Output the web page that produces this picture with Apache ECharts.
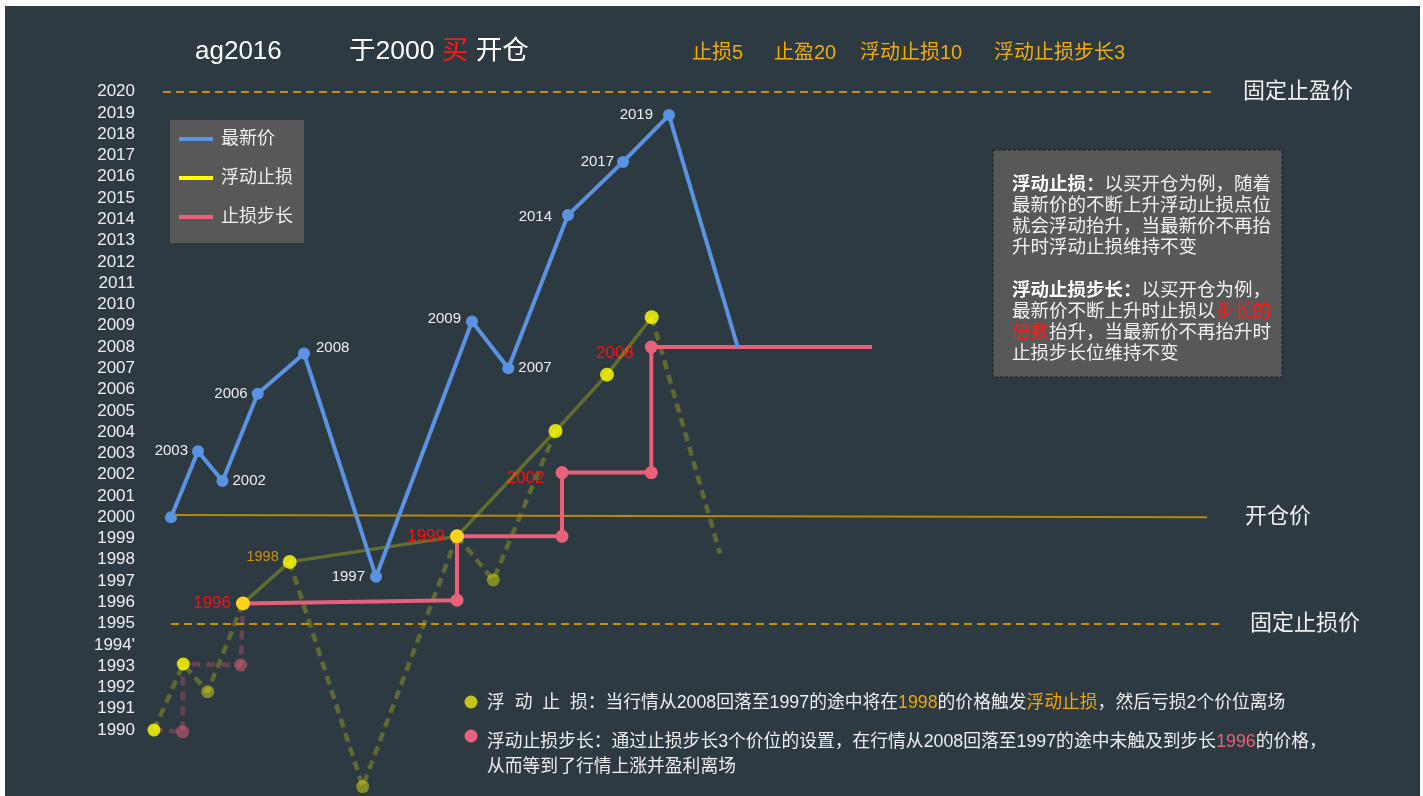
<!DOCTYPE html>
<html>
<head>
<meta charset="utf-8">
<script src="https://cdn.jsdelivr.net/npm/echarts@6/dist/echarts.min.js"></script>
<style>
html, body { margin: 0; padding: 0; background: #fff; }
#main { position: absolute; left: 5px; top: 6px; width: 1415px; height: 790px; background: #2d3a42; }
</style>
</head>
<body>
<div id="main"></div>
<script>
const FONT = "'Liberation Sans', 'Noto Sans CJK SC', sans-serif";

// y 轴刻度文字
const yTicks = ['1990', '1991', '1992', '1993', "1994'", '1995', '1996', '1997', '1998', '1999', '2000',
    '2001', '2002', '2003', '2004', '2005', '2006', '2007', '2008', '2009', '2010',
    '2011', '2012', '2013', '2014', '2015', '2016', '2017', '2018', '2019', '2020'];

// 最新价
const priceX = [2.1, 4.8, 7.25, 10.77, 15.4, 22.6, 32.2, 35.83, 41.8, 47.3, 51.9, 58.77];
const priceY = [2000, 2003.1, 2001.7, 2005.8, 2007.7, 1997.2, 2009.2, 2007.0, 2014.2, 2016.7, 2018.9, 2008.0];
const priceLabelPos = [null, 'left', 'right', 'left', 'right', 'left', 'left', 'right', 'left', 'left', 'left', null];
const priceLabelDy = [0, 0, 0, 0, -6, 0, -3, 0, 2, 0, 0, 0];
const priceLabelGap = [4, 4, 4, 4, 6, 5, 5, 4, 10, 3, 10, 4];

// 浮动止损
const trailX = [9.3, 13.97, 30.7, 40.55, 45.7, 50.17];
const trailY = [1995.95, 1997.9, 1999.1, 2004.05, 2006.7, 2009.4];
const trailLabels = ['1996', '1998', '1999', '', '', ''];

// 止损步长
const stepX = [9.3, 30.7, 30.7, 41.2, 41.2, 50.13, 50.13, 72.2];
const stepY = [1995.95, 1996.1, 1999.1, 1999.1, 2002.1, 2002.1, 2008.0, 2008.0];
const stepLabels = ['', '', '', '', '2002', '', '2008', ''];
const stepDots = [0, 1, 0, 1, 1, 1, 1, 0];

// 虚线 (回落路径)  marks: 0 无点, 1 暗点, 2 亮点, 3 粉点
const dashAX = [0.4, 3.33, 5.77, 9.3];
const dashAY = [1990.0, 1993.1, 1991.8, 1995.95];
const dashAMarks = [2, 2, 1, 0];
const dashBX = [13.97, 21.27, 30.7];
const dashBY = [1997.9, 1987.34, 1999.1];
const dashBMarks = [0, 1, 0];
const dashCX = [30.7, 34.33, 40.55];
const dashCY = [1999.1, 1997.05, 2004.05];
const dashCMarks = [0, 1, 0];
const dashDX = [50.17, 57.0];
const dashDY = [2009.4, 1998.3];
const dashDMarks = [0, 0];
const dashPX = [0.4, 3.27, 3.27, 9.07, 9.3];
const dashPY = [1990.0, 1989.92, 1993.1, 1993.05, 1995.95];
const dashPMarks = [0, 3, 0, 3, 0];

// 参考线
const refNames = ['固定止盈价', '开仓价', '固定止损价'];
const refStartX = [1.3, 2.1, 2.1];
const refEndX = [106.2, 105.7, 107.0];
const refStartY = [2020, 2000.1, 1995];
const refEndY = [2020, 2000, 1995];
const refLabelGap = [31, 38, 30];

const BLUE = '#5b93e3';
const PINK = '#e8607a';
const dotStyles = [
    {},
    { color: 'rgba(255,255,0,0.42)' },
    { color: 'rgba(255,255,0,0.82)' },
    { color: 'rgba(232,96,122,0.5)' }
];

const chart = echarts.init(document.getElementById('main'));

function ghost(name, xs, ys, marks, color) {
    return {
        name: name,
        type: 'line',
        z: 1,
        silent: true,
        symbolSize: 13,
        data: xs.map((x, i) => ({
            value: [x, ys[i]],
            symbol: marks[i] ? 'circle' : 'none',
            itemStyle: dotStyles[marks[i]]
        })),
        lineStyle: { color: color, width: 4.5, type: [9, 6] }
    };
}

const refLines = refNames.map((n, i) => [
    {
        coord: [refStartX[i], refStartY[i]],
        name: n,
        lineStyle: i === 1
            ? { color: '#b8890b', width: 2, type: 'solid' }
            : { color: '#f2ad00', width: 1.5, type: [8, 5] },
        label: { distance: refLabelGap[i] }
    },
    { coord: [refEndX[i], refEndY[i]] }
]);

const option = {
    animation: false,
    textStyle: { fontFamily: FONT },
    grid: { left: 145, width: 1100, top: 85.7, height: 702.1 },
    xAxis: { type: 'value', min: 0, max: 110, show: false },
    yAxis: {
        type: 'value',
        min: 1987,
        max: 2020,
        interval: 1,
        axisLine: { show: false },
        axisTick: { show: false },
        splitLine: { show: false },
        axisLabel: {
            color: '#eee',
            fontSize: 17,
            margin: 15,
            formatter: v => (v >= 1990 ? yTicks[v - 1990] : '')
        }
    },
    legend: {
        data: [
            { name: '最新价', itemStyle: { color: BLUE } },
            { name: '浮动止损', itemStyle: { color: '#ffff00', opacity: 1 } },
            { name: '止损步长', itemStyle: { color: PINK } }
        ],
        orient: 'vertical',
        left: 165,
        top: 114,
        icon: 'rect',
        itemWidth: 34,
        itemHeight: 4,
        itemGap: 21,
        padding: [10, 11, 17, 9],
        backgroundColor: '#585858',
        selectedMode: false,
        textStyle: { color: '#eee', fontSize: 18, padding: [0, 0, 0, 3] }
    },
    series: [
        ghost('p1', dashPX, dashPY, dashPMarks, 'rgba(232,96,122,0.3)'),
        ghost('d1', dashAX, dashAY, dashAMarks, 'rgba(255,255,0,0.24)'),
        ghost('d2', dashBX, dashBY, dashBMarks, 'rgba(255,255,0,0.24)'),
        ghost('d3', dashCX, dashCY, dashCMarks, 'rgba(255,255,0,0.24)'),
        ghost('d4', dashDX, dashDY, dashDMarks, 'rgba(255,255,0,0.24)'),
        {
            name: '止损步长',
            type: 'line',
            z: 3,
            symbolSize: 13,
            data: stepX.map((x, i) => ({
                value: [x, stepY[i]],
                symbol: stepDots[i] ? 'circle' : 'none',
                label: { show: !!stepLabels[i] }
            })),
            lineStyle: { color: PINK, width: 4 },
            itemStyle: { color: PINK },
            label: {
                position: 'left',
                distance: 11,
                offset: [0, 6],
                color: '#ff1010',
                fontSize: 17,
                formatter: p => stepLabels[p.dataIndex]
            }
        },
        {
            name: '浮动止损',
            type: 'line',
            z: 4,
            symbol: 'circle',
            symbolSize: 14,
            data: trailX.map((x, i) => ({
                value: [x, trailY[i]],
                itemStyle: (i === 0 || i === 2) ? { color: '#fdd21f', opacity: 1 } : undefined,
                label: trailLabels[i] === '1998'
                    ? { show: true, color: '#eba11a', fontSize: 14.5, offset: [0, -5], distance: 4 }
                    : { show: !!trailLabels[i] }
            })),
            lineStyle: { color: 'rgba(255,255,0,0.26)', width: 3.5 },
            itemStyle: { color: '#ffff00', opacity: 0.82 },
            label: {
                position: 'left',
                distance: 5,
                color: '#ff1010',
                fontSize: 17,
                formatter: p => trailLabels[p.dataIndex]
            }
        },
        {
            name: '最新价',
            type: 'line',
            z: 5,
            symbolSize: 12,
            data: priceX.map((x, i) => ({
                value: [x, priceY[i]],
                symbol: i === priceX.length - 1 ? 'none' : 'circle',
                label: {
                    show: priceLabelPos[i] !== null,
                    position: priceLabelPos[i] || 'top',
                    distance: priceLabelGap[i],
                    offset: [0, priceLabelDy[i]]
                }
            })),
            lineStyle: { color: BLUE, width: 4 },
            itemStyle: { color: BLUE },
            label: {
                color: '#eee',
                fontSize: 15,
                formatter: p => Math.round(p.value[1])
            },
            markLine: {
                silent: true,
                symbol: 'none',
                z: 2,
                label: {
                    position: 'end',
                    color: '#f2f2f2',
                    fontSize: 22,
                    formatter: '{b}'
                },
                data: refLines
            }
        }
    ],
    graphic: [
        { type: 'text', x: 190, y: 46, style: { text: 'ag2016', fill: '#fff', fontSize: 26, fontFamily: FONT, verticalAlign: 'middle' } },
        {
            type: 'text', x: 344, y: 46,
            style: {
                text: '{w|于2000 }{r|买}{w| 开仓}',
                verticalAlign: 'middle',
                rich: {
                    w: { fill: '#fff', fontSize: 26.5, fontFamily: FONT },
                    r: { fill: '#ff1a1a', fontSize: 26.5, fontFamily: FONT }
                }
            }
        },
        { type: 'text', x: 687, y: 47, style: { text: '止损5', fill: '#f2ad00', fontSize: 20, fontFamily: FONT, verticalAlign: 'middle' } },
        { type: 'text', x: 769, y: 47, style: { text: '止盈20', fill: '#f2ad00', fontSize: 20, fontFamily: FONT, verticalAlign: 'middle' } },
        { type: 'text', x: 855, y: 47, style: { text: '浮动止损10', fill: '#f2ad00', fontSize: 20, fontFamily: FONT, verticalAlign: 'middle' } },
        { type: 'text', x: 989, y: 47, style: { text: '浮动止损步长3', fill: '#f2ad00', fontSize: 20, fontFamily: FONT, verticalAlign: 'middle' } },
        {
            type: 'rect', x: 988, y: 144,
            shape: { width: 289, height: 227 },
            style: { fill: '#585858', stroke: '#1c1c1c', lineWidth: 1, lineDash: [3, 2] }
        },
        {
            type: 'text', x: 1007, y: 168,
            style: {
                text: '{b|浮动止损：}{n|以买开仓为例，随着}\n{n|最新价的不断上升浮动止损点位}\n{n|就会浮动抬升，当最新价不再抬}\n{n|升时浮动止损维持不变}\n{n| }\n' +
                      '{b|浮动止损步长：}{n|以买开仓为例，}\n{n|最新价不断上升时止损以}{r|步长的}\n{r|倍数}{n|抬升，当最新价不再抬升时}\n{n|止损步长位维持不变}',
                rich: {
                    b: { fill: '#fff', fontSize: 18.5, fontWeight: 'bold', lineHeight: 21.2, fontFamily: FONT },
                    n: { fill: '#f2f2f2', fontSize: 18.5, lineHeight: 21.2, fontFamily: FONT },
                    r: { fill: '#ff1a1a', fontSize: 18.5, lineHeight: 21.2, fontFamily: FONT }
                }
            }
        },
        { type: 'circle', shape: { cx: 466, cy: 696, r: 6.5 }, style: { fill: '#c6c41a' } },
        { type: 'circle', shape: { cx: 466, cy: 730, r: 6.5 }, style: { fill: PINK } },
        {
            type: 'text', x: 482, y: 697,
            style: {
                text: '{t|浮  动  止  损：当行情从2008回落至1997的途中将在}{o|1998}{t|的价格触发}{o|浮动止损}{t|，然后亏损2个价位离场}',
                verticalAlign: 'middle',
                rich: {
                    t: { fill: '#eee', fontSize: 17.8, fontFamily: FONT },
                    o: { fill: '#f0a800', fontSize: 17.8, fontFamily: FONT }
                }
            }
        },
        {
            type: 'text', x: 482, y: 723.5,
            style: {
                text: '{t|浮动止损步长：通过止损步长3个价位的设置，在行情从2008回落至1997的途中未触及到步长}{p|1996}{t|的价格，}\n{t|从而等到了行情上涨并盈利离场}',
                rich: {
                    t: { fill: '#eee', fontSize: 17.8, lineHeight: 25, fontFamily: FONT },
                    p: { fill: PINK, fontSize: 17.8, lineHeight: 25, fontFamily: FONT }
                }
            }
        }
    ]
};

chart.setOption(option);
</script>
</body>
</html>
